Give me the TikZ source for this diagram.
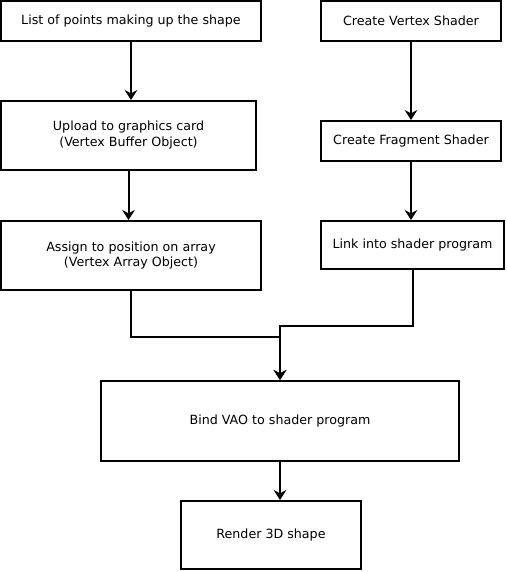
\documentclass[tikz,border=0pt]{standalone}
\usepackage{fontspec}
\setmainfont{DejaVu Sans}
\usetikzlibrary{calc, arrows.meta}
\tikzset{>={Stealth[length=7.5pt, width=9.5pt, inset=2.5pt]}}
\tikzset{
  blk/.style={draw, line width=1.5pt, align=center, inner sep=0pt,
    font=\fontsize{9.5}{12}\selectfont},
  flow/.style={->, line width=1.5pt}
}

\begin{document}
\begin{tikzpicture}[x=0.75pt, y=-0.75pt]
    \useasboundingbox (0,0) rectangle (507,572);
    % left column
    \node[blk, minimum width=195pt, minimum height=30pt] (points) at (131,21)
    {List of points making up the shape};
    \node[blk, minimum width=191.25pt, minimum height=51.75pt] (vbo) at (128.5,135.5)
    {Upload to graphics card\\(Vertex Buffer Object)};
    \node[blk, minimum width=195pt, minimum height=51.75pt] (vao) at (131,255.5)
    {Assign to position on array\\(Vertex Array Object)};
    % right column
    \node[blk, minimum width=135pt, minimum height=30pt] (vshader) at (411,21)
    {Create Vertex Shader};
    \node[blk, minimum width=135pt, minimum height=30pt] (fshader) at (411,141)
    {Create Fragment Shader};
    \node[blk, minimum width=137.25pt, minimum height=36pt] (link) at (412.5,245)
    {Link into shader program};
    % bottom
    \node[blk, minimum width=268.5pt, minimum height=60pt] (bind) at (280,421)
    {Bind VAO to shader program};
    \node[blk, minimum width=135pt, minimum height=51pt] (render) at (271,535)
    {Render 3D shape};
    \draw[flow] (points.south) -- (points.south |- vbo.north);
    \draw[flow] (vbo.south) -- (vbo.south |- vao.north);
    \draw[flow] (vshader.south) -- (fshader.north);
    \draw[flow] (fshader.south) -- (fshader.south |- link.north);
    \draw[flow] (vao.south) -- ++(0,46) -| (bind.north);
    \draw[flow] (link.south) -- ++(0,56) -| (bind.north);
    \draw[flow] (bind.south) -- (bind.south |- render.north);
\end{tikzpicture}
\end{document}
